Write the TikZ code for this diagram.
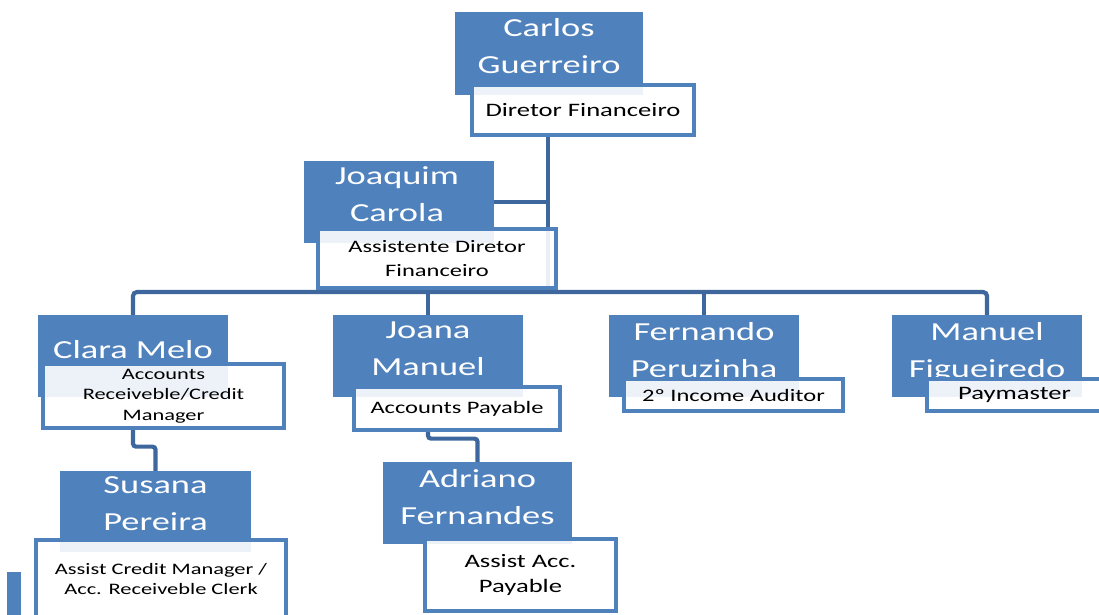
\documentclass[tikz,border=0pt]{standalone}
\usepackage{fontspec}
\newfontfamily\orgfont[FakeStretch=1.4]{Carlito}
\usetikzlibrary{positioning,backgrounds}
\definecolor{boxblue}{RGB}{79,129,189}
\definecolor{linkblue}{RGB}{62,104,157}

\begin{document}
\begin{tikzpicture}[x=1pt,y=-1pt,
  namebox/.style={fill=boxblue, minimum width=190pt, minimum height=82pt, inner sep=0pt},
  nametext/.style={text=white, align=center, inner sep=0pt, font=\orgfont\fontsize{26}{37}\selectfont},
  titlebox/.style={draw=boxblue, line width=3.2pt, fill=white, fill opacity=0.9, text opacity=1, text=black, align=center, inner sep=2pt},
  tbig/.style={font=\orgfont\fontsize{19}{25}\selectfont},
  tmid/.style={font=\orgfont\fontsize{17.5}{24}\selectfont},
  tsmall/.style={font=\orgfont\fontsize{16}{20.5}\selectfont},
  link/.style={draw=linkblue, line width=4.2pt}]
\useasboundingbox (0,0) rectangle (1099,614);

% Name Boxes
\node[namebox, minimum width=188pt, minimum height=83pt] (carlos) at (549,53.5) {};
\node[namebox] (joaquim) at (399,202) {};
\node[namebox] (clara) at (133,356) {};
\node[namebox] (joana) at (428,356) {};
\node[namebox] (fernando) at (704,356) {};
\node[namebox] (manuel) at (987,356) {};
\node[namebox, minimum width=191pt, minimum height=81pt] (susana) at (155.5,511.5) {};
\node[namebox, minimum width=189pt] (adriano) at (477.5,503) {};
%partly cut box, bottom left
\fill[boxblue] (7,572) rectangle (21,616);

% Name Texts
\node[nametext, below=6.5pt of carlos.north] (carlos-name) {Carlos\\Guerreiro};
\node[nametext, below=6pt of joaquim.north, xshift=-2pt] (joaquim-name) {Joaquim\\Carola};
\node[nametext, below=25pt of clara.north] (clara-name) {Clara Melo};
\node[nametext, below=7pt of joana.north] (joana-name) {Joana\\Manuel};
\node[nametext, below=7pt of fernando.north] (fernando-name) {Fernando\\Peruzinha};
\node[nametext, below=7pt of manuel.north] (manuel-name) {Manuel\\Figueiredo};
\node[nametext, below=6pt of susana.north] (susana-name) {Susana\\Pereira};
\node[nametext, below=7pt of adriano.north] (adriano-name) {Adriano\\Fernandes};

% Title Boxes
\node[titlebox, tbig, minimum width=222pt, minimum height=50pt] (carlosT) at (583,110) {Diretor Financeiro};
\node[titlebox, tmid, minimum width=238pt, minimum height=59pt] (joaquimT) at (437,258.5) {Assistente Diretor\\Financeiro};
\node[titlebox, tsmall, minimum width=241pt, minimum height=64pt] (claraT) at (163.5,396) {Accounts\\Receiveble/Credit\\Manager};
\node[titlebox, tmid, minimum width=206pt, minimum height=43pt] (joanaT) at (457,408.5) {Accounts Payable};
\node[titlebox, tmid, minimum width=219pt, minimum height=32pt] (fernandoT) at (733.5,395) {2º Income Auditor};
\node[titlebox, tbig, minimum width=175pt, minimum height=32pt] (manuelT) at (1014.5,395) {Paymaster};
\node[titlebox, tsmall, minimum width=250pt, minimum height=78pt] (susanaT) at (161,579) {Assist Credit Manager /\\Acc. Receiveble Clerk};
\node[titlebox, tbig, minimum width=191pt, minimum height=72pt] (adrianoT) at (520.5,575) {Assist Acc.\\Payable};

% Connectors
\begin{scope}[on background layer]
\coordinate (trunk) at (548,292);
\draw[link] (carlosT.south -| trunk) -- (trunk);
\draw[link] (joaquim.east) -- (joaquim.east -| trunk);
\draw[link, rounded corners=4pt] (clara.north) |- (trunk) -| (manuel.north);
\draw[link] (joana.north) -- (joana.north |- trunk);
\draw[link] (fernando.north) -- (fernando.north |- trunk);
\draw[link, rounded corners=3pt] (claraT.south -| clara.north) -- ++(0,17) -| (susana.north);
\draw[link, rounded corners=3pt] (joanaT.south -| joana.north) -- ++(0,7) -| (adriano.north);
\end{scope}
\end{tikzpicture}
\end{document}
